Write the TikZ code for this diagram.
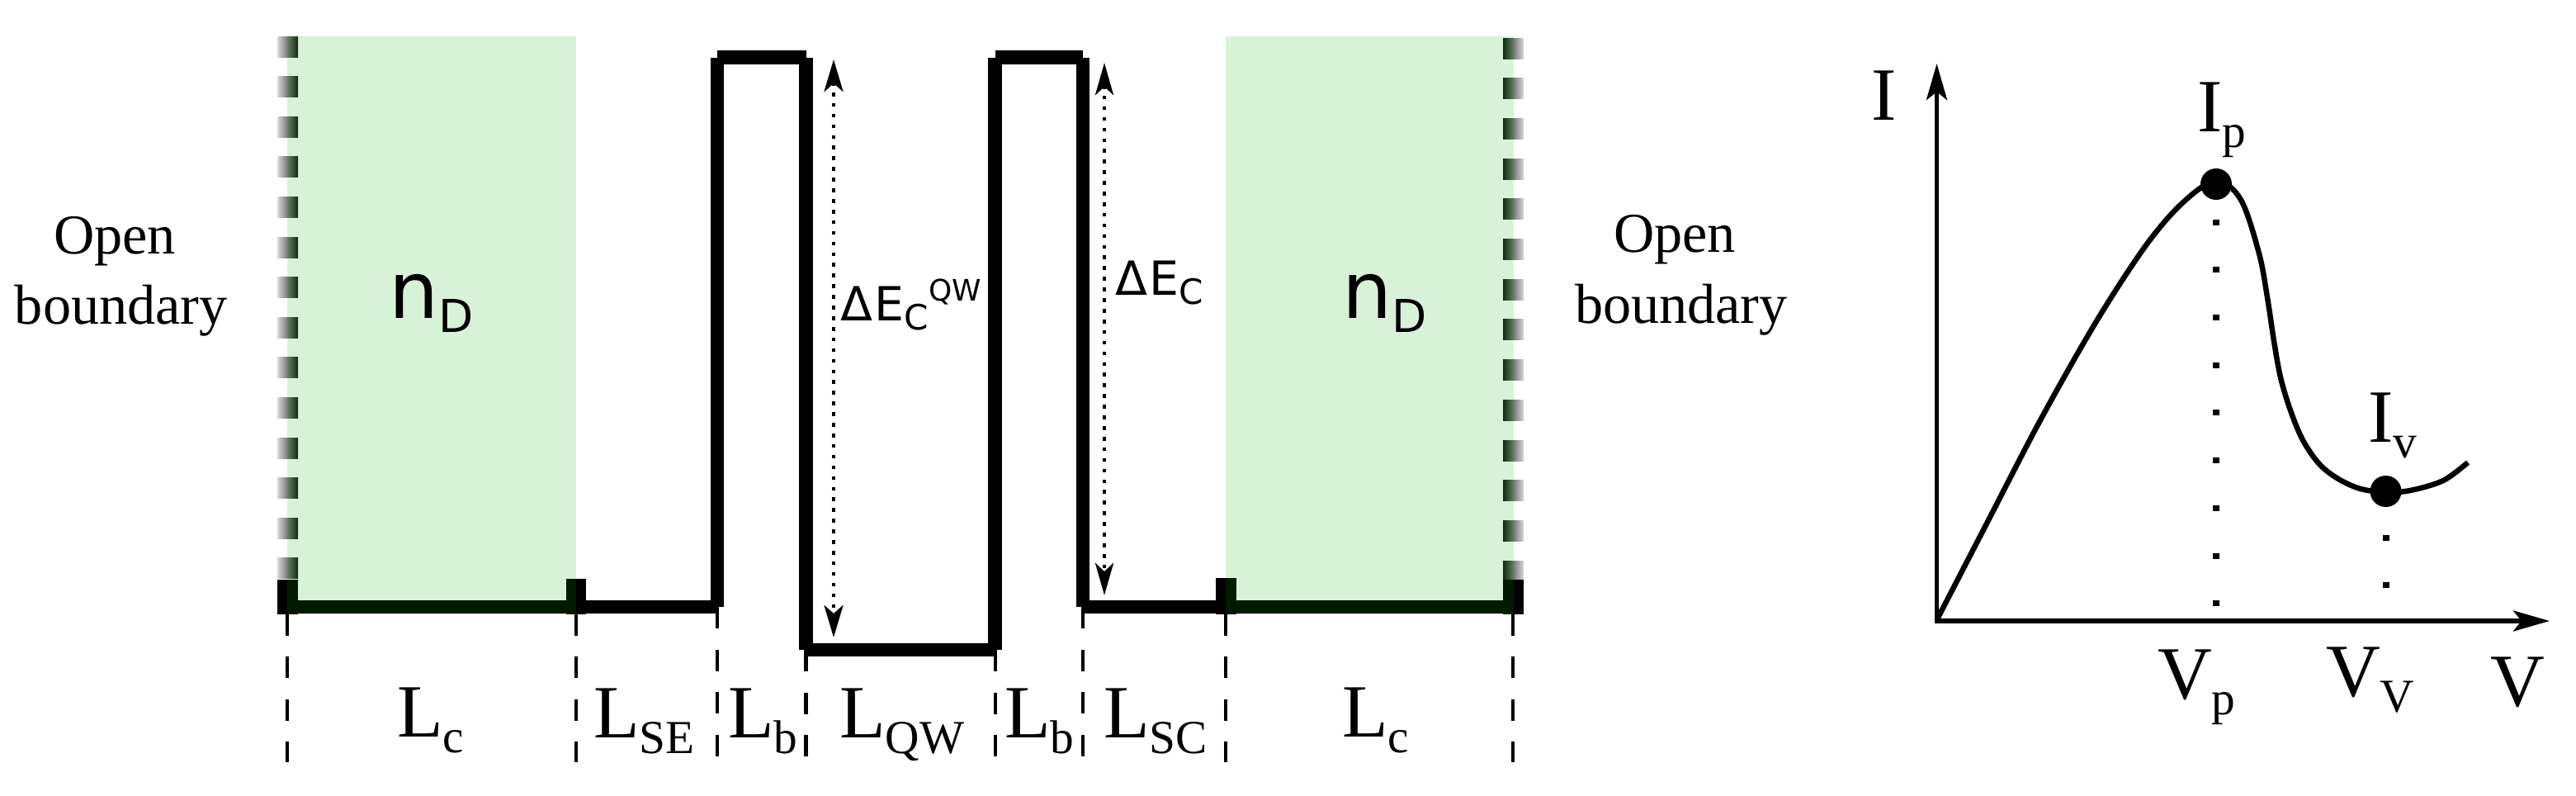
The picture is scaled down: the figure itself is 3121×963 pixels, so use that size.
\documentclass[tikz,border=0pt]{standalone}
\usepackage{fontspec}
\setmainfont{Liberation Serif}
\setsansfont{DejaVu Sans}
\usetikzlibrary{arrows.meta}
\definecolor{contact}{rgb}{0,.667,0}
\newcommand{\bigfnt}{\fontsize{25.9}{30}\selectfont}
\newcommand{\subfnt}{\fontsize{16.3}{20}\selectfont}
\newcommand{\lab}[2]{{\bigfnt #1}\raisebox{-.19cm}{\subfnt #2}}
\newcommand{\delE}{{\sffamily\fontsize{16.2}{20}\selectfont Δ\kern.03cm E\raisebox{-.11cm}{\fontsize{12}{14}\selectfont C}}}
\tikzset{
txt/.style={anchor=base west,inner sep=0,outer sep=0},
open/.style={txt,font=\fontsize{19.4}{24}\selectfont},
well/.style={line width=.165cm},
guide/.style={line width=.046cm,dash pattern=on .26cm off .255cm},
dots/.style={line width=.048cm,dash pattern=on .046cm off .083cm},
axis/.style={line width=.055cm,-{Stealth[length=.44cm,width=.25cm,inset=.1cm]}},
dot/.style={circle,fill=black,minimum size=.38cm,inner sep=0},
}
\begin{document}
\begin{tikzpicture}[x=.01cm,y=-.01cm]
\useasboundingbox (0,0) rectangle (3121,963);
% open boundaries
\foreach \k in {0,...,13}{
\shade[left color=black!15,right color=black!92] (336,44+48.6*\k) rectangle (361,69+48.6*\k);
\shade[right color=black!15,left color=black!92] (1821,46+48.7*\k) rectangle (1846,71+48.7*\k);
}
% band edge
\coordinate (lcl) at (348,735);
\coordinate (lcr) at (698,735);
\coordinate (b1b) at (869,735);
\coordinate (b1t) at (869,69.5);
\coordinate (qwlt) at (976.5,69.5);
\coordinate (qwlb) at (976.5,787);
\coordinate (qwrb) at (1205.5,787);
\coordinate (qwrt) at (1205.5,69.5);
\coordinate (b2t) at (1312,69.5);
\coordinate (b2b) at (1312,735);
\coordinate (rcl) at (1485,735);
\coordinate (rcr) at (1833.5,735);
\draw[well] (lcl) -- (b1b);
\draw[well] (b1b) -- (b1t);
\draw[well] (b1t) -- (qwlt);
\draw[well] (qwlt) -- (qwlb);
\draw[well] (qwlb) -- (qwrb);
\draw[well] (qwrb) -- (qwrt);
\draw[well] (qwrt) -- (b2t);
\draw[well] (b2t) -- (b2b);
\draw[well] (b2b) -- (rcr);
\fill (336,702) rectangle (361,743.5);
\fill (685.5,701) rectangle (710,743.5);
\fill (1473,700) rectangle (1498,743.5);
\fill (1821,702) rectangle (1846,743.5);
% doped contacts
\fill[contact,opacity=.153] (348,44) rectangle (698,743.5);
\fill[contact,opacity=.153] (1485,44) rectangle (1834,743.5);
% guides
\foreach \x/\y/\z in {348/743.5/923,698/743.5/923,869/735/916,976.5/787/916,1206/787/916,1312/735/916,1485/743.5/923,1833/743.5/923}{
\draw[guide] (\x,\y) -- (\x,\z);
}
% offsets
\coordinate (de1t) at (1010,72);
\coordinate (de1b) at (1010,772);
\coordinate (de2t) at (1338,76);
\coordinate (de2b) at (1338,721);
\draw[dots,{Stealth[length=.39cm,width=.23cm,inset=.1cm]}-{Stealth[length=.39cm,width=.23cm,inset=.1cm]}] (de1t) -- (de1b);
\draw[dots,{Stealth[length=.39cm,width=.22cm,inset=.1cm]}-{Stealth[length=.39cm,width=.22cm,inset=.1cm]}] (de2t) -- (de2b);
\node[txt] (deqw) at (1018,388) {\delE\raisebox{.23cm}{\sffamily\fontsize{10.2}{12}\selectfont QW}};
\node[txt] (dec) at (1351,357) {\delE};
% labels
\node[open] (opl1) at (65,307) {Open};
\node[open] (opl2) at (18,392) {boundary};
\node[open] (opr1) at (1955,305) {Open};
\node[open] (opr2) at (1908,391) {boundary};
\node[txt] (ndl) at (471,385) {\sffamily\fontsize{27}{30}\selectfont n\raisebox{-.17cm}{\fontsize{15.6}{18}\selectfont D}};
\node[txt] (ndr) at (1626,385) {\sffamily\fontsize{27}{30}\selectfont n\raisebox{-.17cm}{\fontsize{15.6}{18}\selectfont D}};
\node[txt] (lc1) at (481,892) {\lab{L}{c}};
\node[txt] (lse) at (719,893) {\lab{L}{SE}};
\node[txt] (lb1) at (882,893) {\lab{L}{b}};
\node[txt] (lqw) at (1017,893) {\lab{L}{QW}};
\node[txt] (lb2) at (1217,893) {\lab{L}{b}};
\node[txt] (lsc) at (1337,893) {\lab{L}{SC}};
\node[txt] (lc2) at (1626,892) {\lab{L}{c}};
% IV curve
\coordinate (orig) at (2346,752);
\coordinate (itip) at (2346.5,77);
\coordinate (vtip) at (3089,752);
\draw[axis] (2346.5,755) -- (itip);
\draw[axis] (orig) -- (vtip);
\draw[line width=.065cm] plot[smooth,tension=.55] coordinates {(2347,750) (2407,634) (2473,507) (2540,389) (2600,297) (2645,245) (2685,219) (2715,242) (2737,307) (2747,360) (2755,413) (2763,457) (2775,497) (2790,533) (2810,562) (2833,580) (2860,592) (2890,596) (2920,594) (2960,582) (2990,560)};
\node[dot] (ipk) at (2685,223) {};
\node[dot] (ivl) at (2890.5,595) {};
\draw[line width=.08cm,dash pattern=on .07cm off .507cm] (2685,265.5) -- (2685,740);
\draw[line width=.08cm,dash pattern=on .07cm off .507cm] (2890.5,647.5) -- (2890.5,713);
\node[txt] (ilab) at (2267,145) {\bigfnt I};
\node[txt] (vlab) at (3017,855) {\bigfnt V};
\node[txt] (iplab) at (2662,159) {\lab{I}{p}};
\node[txt] (ivlab) at (2869,535) {\lab{I}{v}};
\node[txt] (vplab) at (2614,846) {\lab{V}{p}};
\node[txt] (vvlab) at (2818,843) {\lab{V}{V}};
\end{tikzpicture}
\end{document}
